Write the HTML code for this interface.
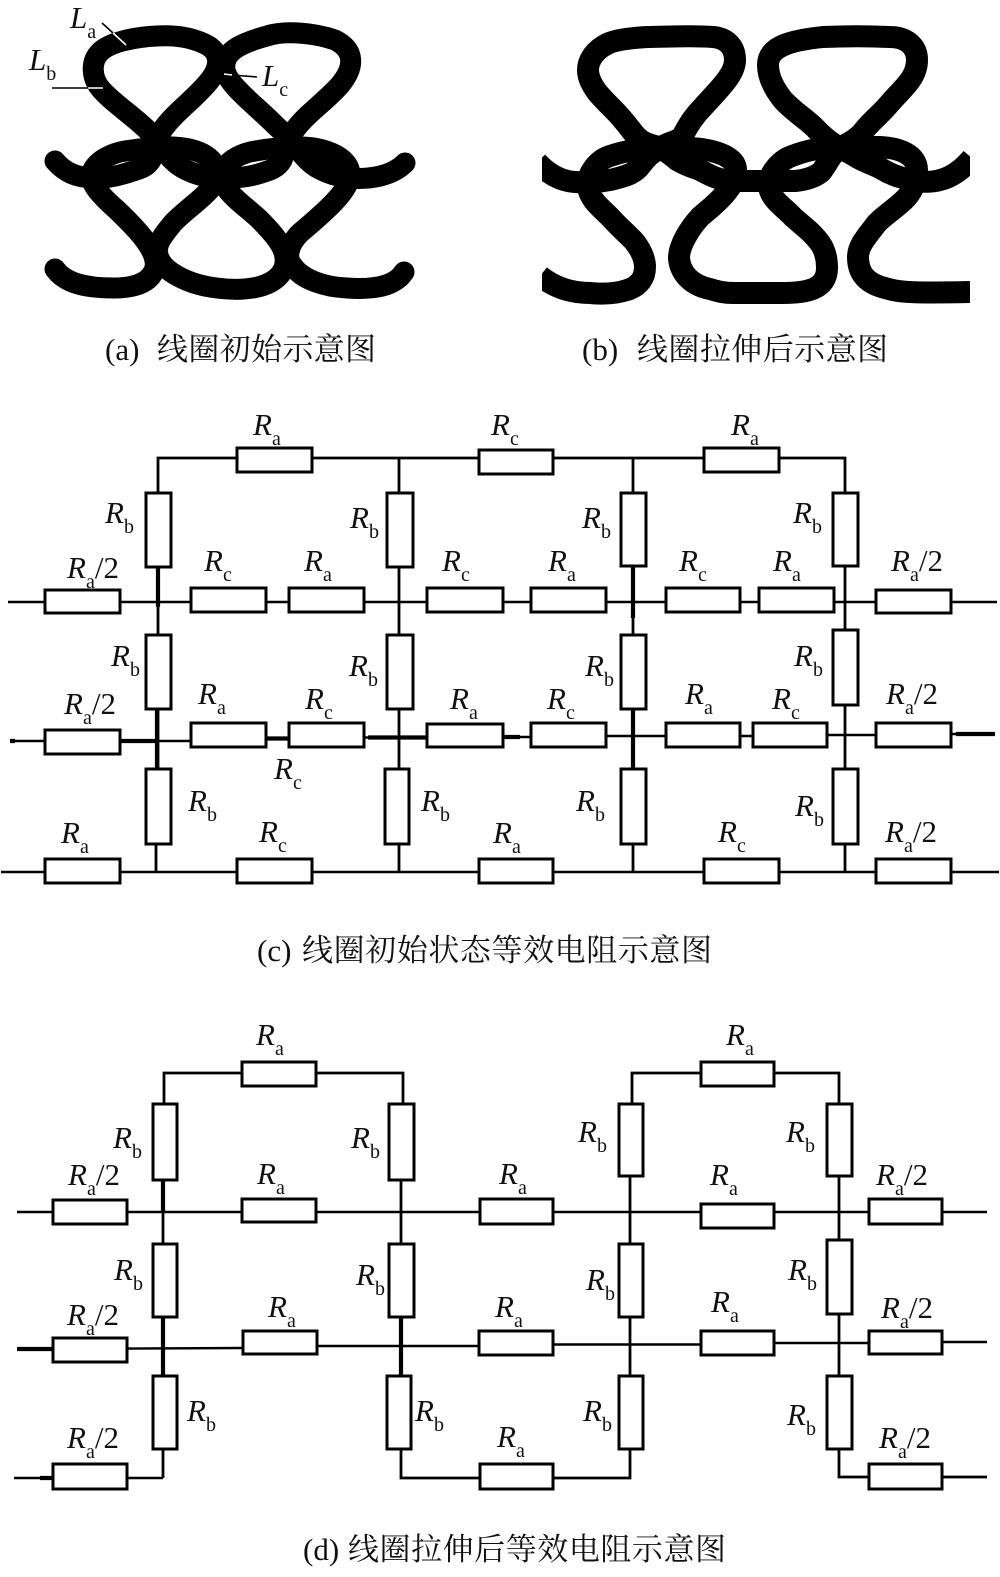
<!DOCTYPE html>
<html><head><meta charset="utf-8">
<style>
html,body{margin:0;padding:0;background:#fff}
svg{display:block}
text{font-family:"Liberation Serif","Noto Serif CJK SC",serif;fill:#111;font-size:31px}
.i{font-style:italic}
.s{font-size:20px}
.cap{font-size:31px}
.w{stroke:#000;stroke-width:2.8;fill:none}
.h{stroke:#000;stroke-width:2.4;fill:none}
.t{stroke:#000;stroke-width:4.2;fill:none}
.r{stroke:#000;stroke-width:3;fill:#fff}
</style></head><body>
<svg xmlns="http://www.w3.org/2000/svg" width="1000" height="1577" viewBox="0 0 1000 1577">
<defs><clipPath id="cb"><rect x="542" y="0" width="428" height="320"/></clipPath></defs>
<rect width="1000" height="1577" fill="#fff"/>

<g fill="none" stroke="#000" stroke-width="21" stroke-linecap="round">
<path d="M55 161 C66 174 78 177 92 178 C105 179 118 176 130 172 C140 169 147 167 151 160 C155 150 157 138 163 129 C175 112 196 98 210 80 C220 67 222 52 205 44 C190 37 175 35 157 36 C135 37 110 42 100 52 C90 62 92 78 100 88 C112 103 140 120 157 140 C163 150 170 159 178 165 C188 172 200 176 213 178 C225 179 245 178 258 174 C268 171 277 169 282 160 C286 150 288 140 294 131 C305 115 325 102 340 85 C355 67 355 50 335 40 C315 33 285 30 267 36 C245 42 222 50 225 70 C228 85 255 105 273 123 C280 130 286 135 292 140 C298 150 305 159 313 165 C323 172 335 176 348 178 C370 180 392 176 405 163"/>
<path d="M55 269 C65 283 85 288 113 288 C130 288 150 285 155 268 C158 252 140 232 117 210 C100 195 88 182 92 172 C96 162 108 155 120 152 C135 149 155 147 173 147 C195 148 215 155 217 173 C218 190 190 205 173 223 C163 235 155 245 158 255 C162 272 190 285 217 288 C240 291 270 290 282 272 C292 255 278 238 260 220 C245 205 218 190 223 172 C226 162 238 155 250 152 C265 149 285 147 300 147 C320 147 350 155 350 175 C350 190 325 212 300 233 C288 245 286 258 292 265 C302 280 325 287 347 288 C375 290 395 286 404 272"/>
</g>
<g stroke-width="1.6" fill="none">
<path d="M102 23 L113 33 M52 88 L88 88 M232 75 L257 77" stroke="#000"/>
<path d="M113 33 L126 45 M88 88 L103 88 M224 74 L232 75" stroke="#fff"/>
</g>
<text x="70" y="28" class="i">L<tspan class="s" dy="10" style="font-style:normal">a</tspan></text>
<text x="29" y="70" class="i">L<tspan class="s" dy="10" style="font-style:normal">b</tspan></text>
<text x="262" y="86" class="i">L<tspan class="s" dy="10" style="font-style:normal">c</tspan></text>

<g clip-path="url(#cb)" fill="none" stroke="#000" stroke-width="22">
<path d="M537 162 C548 174 560 181 575 182 C590 183 600 182 610 180 C622 177 634 175 641 165 C648 155 654 152 660 148 C668 142 674 143 682 137 C690 122 695 115 703 107 C718 90 735 75 735 60 C735 45 725 38 713 37 C690 35 665 37 647 37 C630 38 615 40 607 44 C595 50 588 60 588 70 C588 78 592 85 597 92 C606 103 615 110 623 120 C630 128 632 132 637 137 C645 145 655 145 660 148 C668 152 672 156 677 160 C685 165 692 167 700 170 C708 174 715 179 730 181 L795 181 C805 180 815 177 821 172 C827 165 830 155 840 148 C850 142 855 140 862 133 C870 122 880 115 890 103 C903 88 917 78 917 60 C917 45 905 37 890 37 C870 36 845 36 823 37 C795 40 768 45 768 65 C768 78 775 90 783 100 C795 113 808 120 817 130 C825 138 830 142 840 148 C848 152 852 154 858 158 C865 162 872 164 880 168 C888 173 895 176 903 178 C915 182 930 183 940 180 C952 177 962 170 972 158"/>
<path d="M540 276 C555 288 572 293 590 293 C600 294 615 294 627 290 C640 286 645 277 645 267 C645 258 640 248 633 240 C625 232 618 226 610 217 C600 207 590 200 588 187 C586 175 597 160 610 156 C622 152 640 148 660 148 L690 148 C710 149 736 155 736 170 C736 180 730 188 724 195 C715 205 708 210 700 217 C690 228 679 245 679 258 C680 272 690 285 710 289 C720 292 725 293 733 293 L783 293 C805 293 827 290 827 268 C827 258 825 250 820 243 C812 232 803 226 793 217 C785 208 771 200 769 187 C767 175 780 160 792 156 C805 151 820 147 843 147 L880 147 C900 148 917 155 917 170 C917 180 913 190 907 197 C898 207 887 213 877 223 C868 235 858 245 858 257 C858 272 865 283 885 288 C900 293 920 293 972 292"/>
</g>

<text x="105" y="360" class="cap">(a)</text><text x="157" y="360" class="cap" textLength="219">线圈初始示意图</text>
<text x="582" y="360" class="cap">(b)</text><text x="637" y="360" class="cap" textLength="251">线圈拉伸后示意图</text>
<text x="257" y="961" class="cap">(c)</text><text x="302" y="961" class="cap" textLength="410">线圈初始状态等效电阻示意图</text>
<text x="303" y="1560" class="cap">(d)</text><text x="348" y="1560" class="cap" textLength="378">线圈拉伸后等效电阻示意图</text>

<!-- circuit c wires -->
<path class="w" d="M158 769 L158 458 L845 458 L845 872 M399 458 L399 872 M633 458 L633 872 M156 844 L156 872"/>
<path class="h" d="M8 602 L997 602 M1 872 L999 872"/>
<path class="h" d="M10 741 L191 741 M266 738.5 L289 738.5 M364 737.5 L428 737.5 M503 737 L531 737 M606 736 L666 736 M740 736 L753 736 M827 735 L876 735 M951 734 L995 734"/>
<path class="t" d="M158 567 L158 607 M157 709 L157 769 M633 566 L633 618 M633 709 L633 769 M120 741 L157 741 M266 738.5 L289 738.5 M368 737.5 L428 737.5 M503 737 L520 737 M956 734 L995 734 M10 741 L15 741"/>
<g class="r">
<rect x="237" y="448" width="75" height="24"/><rect x="479" y="450" width="74" height="24"/><rect x="704" y="448" width="75" height="24"/>
<rect x="146" y="493" width="25" height="74"/><rect x="146" y="635" width="25" height="74"/><rect x="146" y="769" width="25" height="75"/>
<rect x="387" y="493" width="26" height="74"/><rect x="387" y="635" width="26" height="74"/><rect x="385" y="769" width="24" height="75"/>
<rect x="621" y="493" width="25" height="73"/><rect x="621" y="635" width="25" height="74"/><rect x="621" y="769" width="25" height="75"/>
<rect x="833" y="493" width="25" height="73"/><rect x="833" y="630" width="25" height="75"/><rect x="833" y="769" width="25" height="75"/>
<rect x="45" y="590" width="75" height="23"/><rect x="191" y="588" width="75" height="24"/><rect x="289" y="588" width="75" height="24"/><rect x="427" y="588" width="76" height="24"/><rect x="531" y="588" width="75" height="24"/><rect x="666" y="588" width="74" height="24"/><rect x="759" y="588" width="75" height="24"/><rect x="876" y="590" width="75" height="23"/>
<rect x="45" y="730" width="75" height="24"/><rect x="191" y="723" width="75" height="24"/><rect x="289" y="723" width="75" height="24"/><rect x="427" y="724" width="76" height="23"/><rect x="531" y="723" width="75" height="24"/><rect x="666" y="723" width="74" height="24"/><rect x="753" y="723" width="74" height="24"/><rect x="876" y="723" width="75" height="24"/>
<rect x="45" y="859" width="75" height="24"/><rect x="237" y="859" width="75" height="24"/><rect x="479" y="859" width="74" height="24"/><rect x="704" y="859" width="75" height="24"/><rect x="876" y="859" width="75" height="24"/>
</g>

<!-- circuit d wires -->
<path class="w" d="M164 1104 L164 1073 L403 1073 L403 1104 M632 1104 L632 1073 L839 1073 L839 1104"/>
<path class="w" d="M163 1180 L163 1478 M401 1180 L401 1478 L630 1478 L630 1176 M839 1176 L839 1477 L987 1477"/>
<path class="h" d="M17 1212 L987 1212 M17 1349 L243 1348 M317 1346 L479 1346 M553 1344.5 L701 1344.5 M774 1343 L869 1343 M942 1342 L987 1342 M14 1478 L163 1478"/>
<path class="t" d="M163 1180 L163 1212 M163 1317 L163 1376 M401 1317 L401 1376 M17 1349 L53 1349 M40 1478 L53 1478"/>
<g class="r">
<rect x="242" y="1062" width="74" height="24"/><rect x="701" y="1062" width="73" height="24"/>
<rect x="153" y="1104" width="24" height="76"/><rect x="153" y="1244" width="24" height="73"/><rect x="153" y="1376" width="24" height="73"/>
<rect x="389" y="1104" width="25" height="76"/><rect x="389" y="1244" width="25" height="73"/><rect x="387" y="1376" width="24" height="73"/>
<rect x="619" y="1104" width="24" height="72"/><rect x="619" y="1244" width="24" height="73"/><rect x="619" y="1376" width="24" height="73"/>
<rect x="827" y="1104" width="25" height="72"/><rect x="827" y="1240" width="25" height="74"/><rect x="827" y="1376" width="25" height="73"/>
<rect x="53" y="1200" width="74" height="24"/><rect x="242" y="1199" width="74" height="23"/><rect x="480" y="1199" width="73" height="25"/><rect x="701" y="1204" width="73" height="24"/><rect x="869" y="1199" width="73" height="25"/>
<rect x="53" y="1338" width="74" height="24"/><rect x="243" y="1331" width="74" height="23"/><rect x="479" y="1331" width="74" height="24"/><rect x="701" y="1331" width="73" height="24"/><rect x="869" y="1331" width="73" height="23"/>
<rect x="53" y="1464" width="74" height="25"/><rect x="480" y="1464" width="73" height="25"/><rect x="869" y="1464" width="73" height="25"/>
</g>

<!-- labels c -->
<text x="253" y="435"><tspan class="i">R</tspan><tspan class="s" dy="10">a</tspan></text>
<text x="491" y="435"><tspan class="i">R</tspan><tspan class="s" dy="10">c</tspan></text>
<text x="731" y="435"><tspan class="i">R</tspan><tspan class="s" dy="10">a</tspan></text>
<text x="105" y="523"><tspan class="i">R</tspan><tspan class="s" dy="10">b</tspan></text>
<text x="350" y="528"><tspan class="i">R</tspan><tspan class="s" dy="10">b</tspan></text>
<text x="582" y="528"><tspan class="i">R</tspan><tspan class="s" dy="10">b</tspan></text>
<text x="793" y="523"><tspan class="i">R</tspan><tspan class="s" dy="10">b</tspan></text>
<text x="67" y="578"><tspan class="i">R</tspan><tspan class="s" dy="10">a</tspan><tspan dy="-10">/2</tspan></text>
<text x="204" y="571"><tspan class="i">R</tspan><tspan class="s" dy="10">c</tspan></text>
<text x="304" y="571"><tspan class="i">R</tspan><tspan class="s" dy="10">a</tspan></text>
<text x="442" y="571"><tspan class="i">R</tspan><tspan class="s" dy="10">c</tspan></text>
<text x="548" y="571"><tspan class="i">R</tspan><tspan class="s" dy="10">a</tspan></text>
<text x="679" y="571"><tspan class="i">R</tspan><tspan class="s" dy="10">c</tspan></text>
<text x="773" y="571"><tspan class="i">R</tspan><tspan class="s" dy="10">a</tspan></text>
<text x="891" y="571"><tspan class="i">R</tspan><tspan class="s" dy="10">a</tspan><tspan dy="-10">/2</tspan></text>
<text x="111" y="666"><tspan class="i">R</tspan><tspan class="s" dy="10">b</tspan></text>
<text x="349" y="676"><tspan class="i">R</tspan><tspan class="s" dy="10">b</tspan></text>
<text x="585" y="676"><tspan class="i">R</tspan><tspan class="s" dy="10">b</tspan></text>
<text x="794" y="666"><tspan class="i">R</tspan><tspan class="s" dy="10">b</tspan></text>
<text x="64" y="714"><tspan class="i">R</tspan><tspan class="s" dy="10">a</tspan><tspan dy="-10">/2</tspan></text>
<text x="198" y="704"><tspan class="i">R</tspan><tspan class="s" dy="10">a</tspan></text>
<text x="305" y="709"><tspan class="i">R</tspan><tspan class="s" dy="10">c</tspan></text>
<text x="450" y="709"><tspan class="i">R</tspan><tspan class="s" dy="10">a</tspan></text>
<text x="547" y="709"><tspan class="i">R</tspan><tspan class="s" dy="10">c</tspan></text>
<text x="685" y="704"><tspan class="i">R</tspan><tspan class="s" dy="10">a</tspan></text>
<text x="772" y="709"><tspan class="i">R</tspan><tspan class="s" dy="10">c</tspan></text>
<text x="886" y="704"><tspan class="i">R</tspan><tspan class="s" dy="10">a</tspan><tspan dy="-10">/2</tspan></text>
<text x="274" y="779"><tspan class="i">R</tspan><tspan class="s" dy="10">c</tspan></text>
<text x="188" y="811"><tspan class="i">R</tspan><tspan class="s" dy="10">b</tspan></text>
<text x="421" y="811"><tspan class="i">R</tspan><tspan class="s" dy="10">b</tspan></text>
<text x="576" y="811"><tspan class="i">R</tspan><tspan class="s" dy="10">b</tspan></text>
<text x="795" y="816"><tspan class="i">R</tspan><tspan class="s" dy="10">b</tspan></text>
<text x="61" y="843"><tspan class="i">R</tspan><tspan class="s" dy="10">a</tspan></text>
<text x="259" y="842"><tspan class="i">R</tspan><tspan class="s" dy="10">c</tspan></text>
<text x="493" y="843"><tspan class="i">R</tspan><tspan class="s" dy="10">a</tspan></text>
<text x="718" y="842"><tspan class="i">R</tspan><tspan class="s" dy="10">c</tspan></text>
<text x="885" y="842"><tspan class="i">R</tspan><tspan class="s" dy="10">a</tspan><tspan dy="-10">/2</tspan></text>

<!-- labels d -->
<text x="256" y="1045"><tspan class="i">R</tspan><tspan class="s" dy="10">a</tspan></text>
<text x="726" y="1045"><tspan class="i">R</tspan><tspan class="s" dy="10">a</tspan></text>
<text x="113" y="1148"><tspan class="i">R</tspan><tspan class="s" dy="10">b</tspan></text>
<text x="351" y="1148"><tspan class="i">R</tspan><tspan class="s" dy="10">b</tspan></text>
<text x="578" y="1142"><tspan class="i">R</tspan><tspan class="s" dy="10">b</tspan></text>
<text x="786" y="1142"><tspan class="i">R</tspan><tspan class="s" dy="10">b</tspan></text>
<text x="68" y="1185"><tspan class="i">R</tspan><tspan class="s" dy="10">a</tspan><tspan dy="-10">/2</tspan></text>
<text x="257" y="1184"><tspan class="i">R</tspan><tspan class="s" dy="10">a</tspan></text>
<text x="499" y="1184"><tspan class="i">R</tspan><tspan class="s" dy="10">a</tspan></text>
<text x="710" y="1185"><tspan class="i">R</tspan><tspan class="s" dy="10">a</tspan></text>
<text x="876" y="1185"><tspan class="i">R</tspan><tspan class="s" dy="10">a</tspan><tspan dy="-10">/2</tspan></text>
<text x="114" y="1280"><tspan class="i">R</tspan><tspan class="s" dy="10">b</tspan></text>
<text x="356" y="1285"><tspan class="i">R</tspan><tspan class="s" dy="10">b</tspan></text>
<text x="586" y="1290"><tspan class="i">R</tspan><tspan class="s" dy="10">b</tspan></text>
<text x="788" y="1280"><tspan class="i">R</tspan><tspan class="s" dy="10">b</tspan></text>
<text x="67" y="1325"><tspan class="i">R</tspan><tspan class="s" dy="10">a</tspan><tspan dy="-10">/2</tspan></text>
<text x="268" y="1317"><tspan class="i">R</tspan><tspan class="s" dy="10">a</tspan></text>
<text x="495" y="1317"><tspan class="i">R</tspan><tspan class="s" dy="10">a</tspan></text>
<text x="711" y="1312"><tspan class="i">R</tspan><tspan class="s" dy="10">a</tspan></text>
<text x="881" y="1318"><tspan class="i">R</tspan><tspan class="s" dy="10">a</tspan><tspan dy="-10">/2</tspan></text>
<text x="187" y="1421"><tspan class="i">R</tspan><tspan class="s" dy="10">b</tspan></text>
<text x="415" y="1421"><tspan class="i">R</tspan><tspan class="s" dy="10">b</tspan></text>
<text x="583" y="1421"><tspan class="i">R</tspan><tspan class="s" dy="10">b</tspan></text>
<text x="787" y="1425"><tspan class="i">R</tspan><tspan class="s" dy="10">b</tspan></text>
<text x="67" y="1448"><tspan class="i">R</tspan><tspan class="s" dy="10">a</tspan><tspan dy="-10">/2</tspan></text>
<text x="497" y="1447"><tspan class="i">R</tspan><tspan class="s" dy="10">a</tspan></text>
<text x="879" y="1448"><tspan class="i">R</tspan><tspan class="s" dy="10">a</tspan><tspan dy="-10">/2</tspan></text>
</svg>
</body></html>
